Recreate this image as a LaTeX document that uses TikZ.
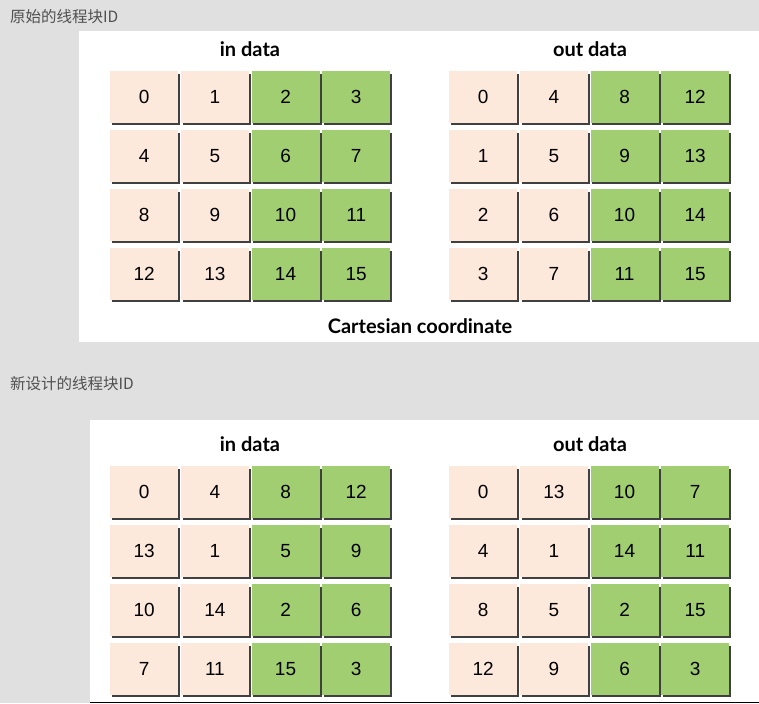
\documentclass[tikz,border=0pt]{standalone}
\usepackage{fontspec}
\setmainfont{Liberation Sans}
\newfontfamily\titlefont{Lato}
\newfontfamily\cjk{Noto Sans CJK SC}
\definecolor{bggray}{HTML}{E0E0E0}
\definecolor{peach}{HTML}{FDE9DB}
\definecolor{leaf}{HTML}{A2CE72}
\definecolor{shade}{HTML}{404040}
\definecolor{labelgray}{HTML}{505050}
\tikzset{
  cellbox/.style={anchor=north west, minimum width=68pt, minimum height=52pt, inner sep=0pt, font=\fontsize{19}{21}\selectfont, text=black},
  shadowline/.style={draw=shade, line width=2pt},
  titletext/.style={font=\titlefont\bfseries\fontsize{20}{22}\selectfont, text=black},
  cjklabel/.style={anchor=west, font=\cjk\fontsize{15.5}{17}\selectfont, text=labelgray, inner sep=0pt}
}
\newcommand{\gridcells}[4]{% name prefix, x0, y0, list
  \foreach \v [count=\k from 0] in {#4} {
    \pgfmathtruncatemacro{\rr}{int(\k/4)}
    \pgfmathtruncatemacro{\cc}{mod(\k,4)}
    \pgfmathsetmacro{\xx}{#2+\cc*70.67}
    \pgfmathsetmacro{\yy}{#3+\rr*59}
    \ifnum\cc<2 \def\cellfill{peach}\else\def\cellfill{leaf}\fi
    \node[cellbox, fill=\cellfill] (#1-\rr-\cc) at (\xx,\yy) {\v};
    \draw[shadowline] ([xshift=1pt,yshift=-3pt]#1-\rr-\cc.north east) -- ([xshift=1pt,yshift=-1pt]#1-\rr-\cc.south east) -- ([xshift=2pt,yshift=-1pt]#1-\rr-\cc.south west);
  }
}
\begin{document}
\begin{tikzpicture}[x=1pt,y=-1pt]
\fill[bggray] (0,0) rectangle (759,703);
\useasboundingbox (0,0) rectangle (759,703);
% panels
\fill[white] (79,31) rectangle (759,342);
\fill[white] (90,420) rectangle (759,703);
\draw[shade, line width=1.2pt] (90,702.4) -- (759,702.4);
% labels
\node[cjklabel] (lab1) at (10,17) {原始的线程块ID};
\node[cjklabel] (lab2) at (10,384) {新设计的线程块ID};
% titles
\node[titletext] (t1in) at (250,49) {in data};
\node[titletext] (t1out) at (590,49) {out data};
\node[titletext] (t1cap) at (420,326) {Cartesian coordinate};
\node[titletext] (t2in) at (250,444) {in data};
\node[titletext] (t2out) at (590,444) {out data};
% grids
\gridcells{pa}{110}{71}{0,1,2,3,4,5,6,7,8,9,10,11,12,13,14,15}
\gridcells{pb}{449}{71}{0,4,8,12,1,5,9,13,2,6,10,14,3,7,11,15}
\gridcells{pc}{110}{466}{0,4,8,12,13,1,5,9,10,14,2,6,7,11,15,3}
\gridcells{pd}{449}{466}{0,13,10,7,4,1,14,11,8,5,2,15,12,9,6,3}
\end{tikzpicture}
\end{document}
